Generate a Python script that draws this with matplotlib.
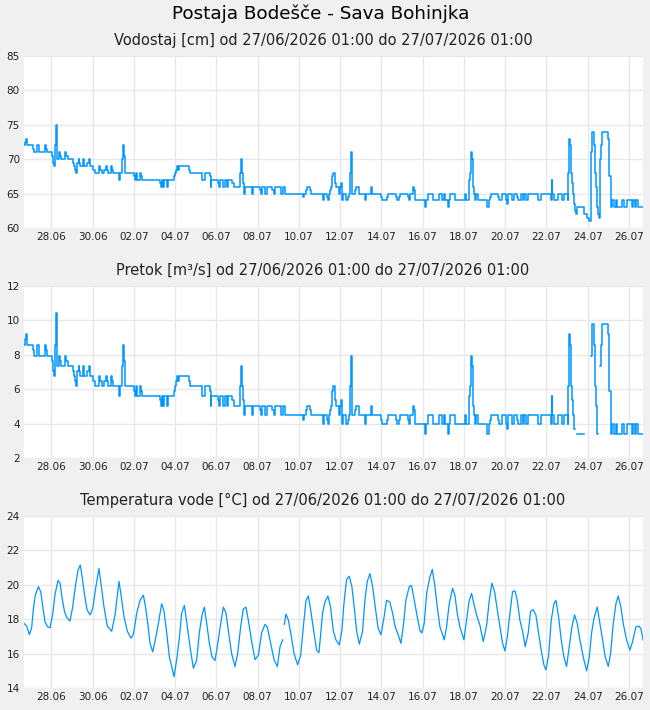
import numpy as np
import matplotlib
matplotlib.use("Agg")
import matplotlib.pyplot as plt

# hours since 27/06/2026 01:00, stage [cm] from that hour on
stage_hours = [0, 1.5, 2.3, 3, 11, 12, 14.7, 17, 24.8, 25.6, 26.4, 32.6, 34.1, 35.3, 36.4, 37.6, 38.4, 38.8,
               40.3, 42.3, 43.4, 48.1, 49.2, 50.8, 57.4, 58.5, 59.7, 60.5, 62, 63.6, 64.4, 65.1, 69, 70, 73.7,
               76, 77, 79.9, 82.6, 87.2, 88.5, 90.3, 92.7, 95, 96, 98.1, 101.2, 102.2, 103.1, 110.9, 112, 113.6,
               115.5, 116.3, 117.5, 128, 129.1, 130.2, 131.4, 134.9, 136, 137.3, 158.2, 159.3, 160.4, 162, 163,
               166, 168, 174.5, 176, 176.8, 177.6, 178.7, 179.9, 192.3, 193.4, 206.6, 207.4, 210.1, 215.9, 217.1,
               218, 225.2, 226.5, 227.5, 231.5, 233.5, 236, 237, 241.5, 244.6, 251.6, 252.8, 253.5, 254.7, 255.5,
               256.6, 264.8, 266.3, 274.5, 276, 277.2, 280.3, 282.2, 289, 291, 291.9, 299.5, 301.6, 303.5, 324.9,
               326, 327.6, 328.8, 332.6, 334.2, 347.4, 348.5, 352.9, 353.7, 354.7, 355.9, 357, 357.8, 358.6,
               359.4, 361.3, 362.2, 362.9, 366, 367, 368.5, 369.5, 370.2, 371.4, 374.1, 376.4, 377.6, 379.5,
               380.3, 381, 381.5, 385.4, 386.1, 389.2, 396.6, 397.8, 403.2, 404.4, 415.2, 416.4, 421.8, 423,
               432.3, 433.4, 436.5, 437.3, 447, 448, 449.3, 452.8, 453.6, 454.8, 466.4, 467.5, 469.5, 476.1,
               482.3, 485.8, 488.1, 490, 493.5, 494.5, 495.5, 501.3, 512.9, 513.8, 518, 518.7, 520, 521, 522,
               522.6, 523.8, 524.5, 525.7, 527.5, 538.9, 540.4, 541.5, 542.7, 551.6, 552.8, 556.3, 561, 562.2,
               563.2, 567.9, 570.2, 573.3, 574.5, 578, 580.7, 581.8, 583.8, 585.7, 598.1, 601.2, 612.9, 613.6,
               614.4, 616.7, 621.4, 626.1, 627.6, 632.3, 633, 634.2, 635, 635.7, 636.9, 638.5, 639.2, 640.4,
               641.6, 643.1, 651.6, 654.4, 656.7, 659, 659.8, 660.9, 663.3, 664, 665.2, 666.4, 667.9, 669.1,
               669.9, 671, 672.6, 679.6, 680.7, 682.3, 684.5, 686.5, 688.5, 689.2, 695.1, 697.5, 701.3, 706.7,
               708.2, 710.6, 712.1, 714.5, 720]
stage_cm = [72, 72.5, 73, 72, 71.5, 71, 72, 71, 72, 71.5, 71, 70.5, 69.5, 69, 72, 75, 72.5, 70,
            71, 70.5, 70, 71, 70.5, 70, 69.5, 69, 68.5, 68, 69.5, 70, 69.5, 69, 70, 69, 69.5,
            70, 69, 68.5, 68, 69, 68.5, 68, 68.5, 69, 68.5, 68, 69, 68.5, 68, 67, 68, 70,
            72, 70.5, 68, 67.5, 67, 68, 67, 68, 67.5, 67, 66.5, 66, 67, 66, 67,
            66, 67, 67.5, 68, 68.5, 69, 68.5, 69, 68.5, 68, 67.5, 67, 68, 67.5, 66,
            67, 66.5, 66, 67, 66, 67, 66, 67, 66.5, 66, 68, 70, 68, 66.5, 65,
            66, 65, 66, 65.5, 65, 66, 65, 66, 65.5, 65, 66, 65, 66, 65, 64.5,
            65, 65.5, 66, 65.5, 65, 64, 65, 64.5, 64, 65, 65.5, 66, 67, 67.5,
            68, 67, 66.5, 66, 65, 66, 66.5, 65, 64, 65, 64, 64.5, 65, 68,
            71, 68, 65, 65.5, 66, 65, 64, 65, 66, 65, 64.5, 64, 64.5, 65,
            64.5, 64, 64.5, 65, 64.5, 64, 65, 66, 65.5, 64, 63, 64, 65, 64,
            65, 64, 65, 64, 63, 64, 65, 64, 65, 64, 67, 68, 71, 70, 68,
            66, 65, 64, 65, 64, 63, 64, 64.5, 65, 64.5, 64, 65, 64, 63.5,
            65, 64, 65, 64.5, 64, 65, 64, 65, 64, 65, 64, 65, 64, 67,
            65, 64, 65, 64, 65, 64, 68, 73, 72, 68, 66.5, 65, 63.5, 62.5,
            62, 63, 62, 61.5, 61, 62, 71, 74, 72, 68, 66, 63, 62, 61.5,
            70, 72, 74, 73, 67.5, 63, 64, 63, 64, 63, 64, 63, 64, 63,
            64, 63, 64, 63, 63]

# rating: stage [cm] -> flow [m3/s]; no flow below 63 cm
flow_for_stage = {63: 3.4, 63.5: 3.7, 64: 3.95, 64.5: 4.2, 65: 4.5, 65.5: 4.8, 66: 5.05, 66.5: 5.35,
                  67: 5.6, 67.5: 5.9, 68: 6.2, 68.5: 6.5, 69: 6.75, 69.5: 7.05, 70: 7.35, 70.5: 7.65,
                  71: 7.95, 71.5: 8.3, 72: 8.55, 72.5: 8.9, 73: 9.2, 74: 9.8, 75: 10.45}

temp_hours = [0, 3.1, 6.2, 8.9, 10.9, 13.2, 16.7, 19.4, 21.7, 24.4, 27.5, 30.3, 33.4, 36.1, 39.6, 41.9,
              44.2, 47.3, 50.4, 53.5, 56.6, 59.7, 62.8, 65.5, 67.5, 70.2, 73.3, 76.8, 79.9, 83, 87.2, 90,
              93.1, 96.9, 102, 105.9, 108.6, 110.5, 113.2, 116.3, 120.2, 124.5, 127.2, 131.1, 135, 138.8,
              141.1, 144.2, 146.6, 149.7, 152.8, 156.3, 160.1, 162.9, 166, 169.1, 171.8, 174.5, 177.6,
              180.7, 183.4, 186.5, 189.2, 193.1, 197, 200.8, 203.9, 207.1, 209.8, 212.5, 215.6, 218.7,
              222.2, 226, 229.1, 231.9, 235, 238.1, 241.5, 245.4, 248.5, 252, 255.1, 258.2, 260.9, 264.8,
              268.7, 272.6, 276.4, 280.3, 283, 286.9, 290.8, 294.7, 297.8, 300.9, 302, 302.8, 304.7, 307.5,
              310.6, 314.1, 318.3, 321.8, 324.9, 328, 330.7, 333.4, 337.3, 340.4, 343.1, 347.3, 350, 353.5,
              356.6, 359.7, 362.8, 366.7, 369.8, 372.1, 375.2, 378.3, 381.4, 384.5, 386.8, 390, 393.8,
              396.5, 399.3, 402.4, 405.5, 408.6, 412, 415.2, 418.6, 421.7, 425.6, 428.7, 431.8, 435.3,
              438.4, 441.1, 444.2, 448.1, 450.8, 453.9, 457.4, 460.5, 462.8, 465.5, 468.3, 472.1, 474.9,
              478, 480.7, 483.8, 486.9, 488.8, 491.5, 494.6, 498.5, 501.2, 503.9, 507, 511.7, 514.8,
              517.5, 520.6, 523.3, 526.4, 530.3, 534.2, 538.1, 541.2, 544.3, 547.4, 550.5, 553.6, 556.7,
              559.4, 562.1, 565.2, 568.3, 571, 573.7, 576.8, 579.9, 583, 586.5, 589.2, 592.3, 595.4,
              598.5, 601.6, 604.7, 607.1, 610.2, 613.3, 616.4, 618.7, 621.8, 624.9, 628, 631.1, 634.2,
              637.3, 640.4, 643.5, 646.6, 650.5, 654.4, 657.5, 660.2, 662.9, 666.8, 669.9, 673, 676.1,
              679.6, 682.3, 685.4, 688.5, 691.2, 694.3, 697, 700.9, 704.8, 707.9, 711.7, 715.2, 717.6, 720]
temp_c = [17.76, 17.6, 17.1, 17.5, 18.6, 19.4, 19.9, 19.6, 18.8, 17.85, 17.55, 17.5, 18.3, 19.45, 20.25, 20.1,
          19.25, 18.4, 18.05, 17.9, 18.7, 19.9, 20.85, 21.15, 20.5, 19.5, 18.55, 18.25, 18.6, 19.7, 20.95, 19.9,
          18.7, 17.6, 17.3, 18.25, 19.4, 20.2, 19.3, 18.15, 17.3, 16.9, 17.1, 18.35, 19.1, 19.4,
          18.8, 17.65, 16.6, 16.1, 16.8, 17.75, 18.9, 18.45, 17.2, 15.8, 15.25, 14.65, 15.65,
          16.9, 18.35, 18.8, 17.85, 16.4, 15.15, 15.6, 17.2, 18.25, 18.7, 17.75, 16.6, 15.8,
          15.6, 16.8, 17.85, 18.7, 18.35, 17.2, 16.0, 15.25, 16.0, 17.55, 18.6, 18.7, 17.95, 16.7,
          15.65, 15.9, 17.2, 17.7, 17.55, 16.6, 15.65, 15.25, 16.4, 16.8, np.nan, 17.7, 18.3, 17.95,
          17.1, 16.0, 15.35, 15.9, 17.55, 19.1, 19.35, 18.55, 17.2, 16.2, 16.05, 18.35, 19.0, 19.35,
          18.7, 17.35, 16.8, 16.5, 17.35, 18.9, 20.3, 20.5, 19.9, 18.5, 17.35, 16.55, 17.3,
          19.1, 20.2, 20.65, 19.9, 18.7, 17.45, 17.1, 18.05, 19.1, 19.0, 18.35, 17.55, 17.1,
          16.6, 17.55, 19.1, 19.9, 19.95, 19.1, 18.15, 17.35, 17.2, 17.75, 19.5, 20.45, 20.9,
          19.9, 18.7, 17.55, 17.1, 16.8, 17.55, 18.9, 19.8, 19.4, 18.35, 17.55, 16.8, 17.95,
          19.0, 19.5, 18.9, 18.25, 17.65, 16.7, 17.65, 19.1, 20.1, 19.6, 18.55, 17.55, 16.6,
          16.15, 16.95, 18.35, 19.6, 19.65, 19.1, 17.95, 17.3, 16.4, 17.2, 18.45, 18.55, 18.25,
          17.2, 16.2, 15.35, 15.05, 15.9, 17.95, 18.9, 19.1, 18.15, 16.8, 15.8, 15.25, 16.4,
          17.55, 18.25, 17.75, 16.8, 15.8, 15.0, 15.8, 17.2, 18.05, 18.7, 17.75, 16.8, 15.8,
          15.25, 16.0, 17.75, 18.9, 19.35, 18.7, 17.75, 16.8, 16.2, 16.7, 17.55, 17.6, 17.45, 16.8]

tick_labels = ["28.06", "30.06", "02.07", "04.07", "06.07", "08.07", "10.07",
               "12.07", "14.07", "16.07", "18.07", "20.07", "22.07", "24.07", "26.07"]

title = "Postaja Bodešče - Sava Bohinjka"
subtitles = ["Vodostaj [cm] od 27/06/2026 01:00 do 27/07/2026 01:00",
             "Pretok [m³/s] od 27/06/2026 01:00 do 27/07/2026 01:00",
             "Temperatura vode [°C] od 27/06/2026 01:00 do 27/07/2026 01:00"]

BG = "#f0f0f0"
BLUE = "#0096ff"
GRID = "#e8e8e8"

plt.rcParams["font.family"] = ["DejaVu Sans"]

fig = plt.figure(figsize=(6.5, 7.1), dpi=100, facecolor=BG)
fig.text(0.494, 1 - 14 / 710, title, ha="center", va="center", fontsize=13.2)

# axes boxes in pixels: top, bottom
boxes = [(56, 228), (286, 458), (516, 688)]
left, right = 24, 643
ylims = [(60, 85), (2, 12), (14, 24)]
yticks = [np.arange(60, 86, 5), np.arange(2, 13, 2), np.arange(14, 25, 2)]

stage_x = list(stage_hours)
stage_y = list(stage_cm)
flow_y = [flow_for_stage.get(v, np.nan) for v in stage_y]

tick_pos = [31.75 + 48 * i for i in range(len(tick_labels))]

axes = []
for i, (top, bot) in enumerate(boxes):
    ax = fig.add_axes([left / 650, 1 - bot / 710, (right - left) / 650, (bot - top) / 710])
    ax.set_facecolor("white")
    for s in ax.spines.values():
        s.set_visible(False)
    ax.set_xlim(0, 720)
    ax.set_ylim(*ylims[i])
    ax.set_yticks(yticks[i])
    ax.set_xticks(tick_pos)
    ax.set_xticklabels(tick_labels)
    ax.tick_params(length=0, labelsize=7.5, colors="#222222", pad=3)
    ax.grid(True, color=GRID, linewidth=1)
    ax.set_axisbelow(True)
    fig.text(0.497, 1 - (top - 16) / 710, subtitles[i], ha="center", va="center", fontsize=10.5,
             color="#222222")
    axes.append(ax)

axes[0].plot(stage_x, stage_y, drawstyle="steps-post", color=BLUE, lw=1.1)
axes[1].plot(stage_x, flow_y, drawstyle="steps-post", color=BLUE, lw=1.1)
axes[2].plot(temp_hours, temp_c, color=BLUE, lw=0.9)

fig.savefig("out.png", dpi=100, facecolor=BG)
